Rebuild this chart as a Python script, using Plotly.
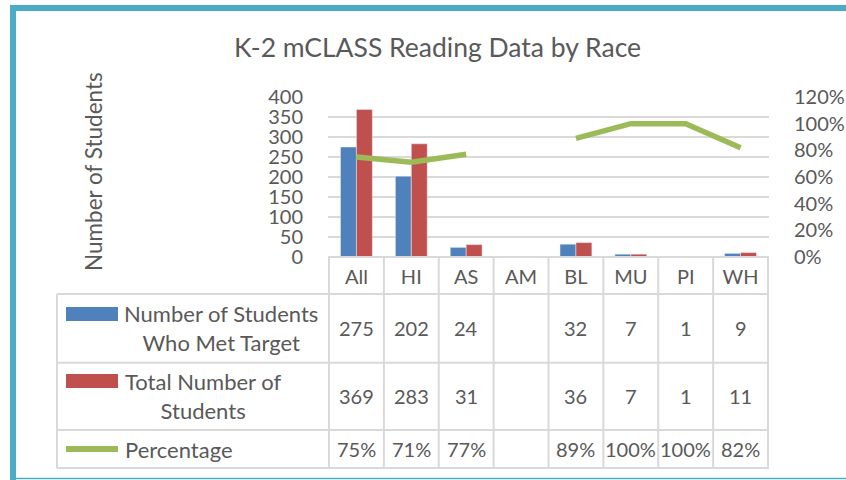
import plotly.graph_objects as go

# ---- data ----
categories = ["All", "HI", "AS", "AM", "BL", "MU", "PI", "WH"]
met_target = [275, 202, 24, None, 32, 7, 1, 9]
total_students = [369, 283, 31, None, 36, 7, 1, 11]
percentage = [0.75, 0.71, 0.77, None, 0.89, 1.00, 1.00, 0.82]
pct_labels = ["75%", "71%", "77%", "", "89%", "100%", "100%", "82%"]
series_names = ["Number of Students<br>Who Met Target", "Total Number of<br>Students", "Percentage"]
title_text = "K-2 mCLASS Reading Data by Race"
y_title = "Number of Students"

# ---- style ----
W, H = 846, 480
PW, PH = 441, 160
ML, MT = 328, 97
MR, MB = W - ML - PW, H - MT - PH
FONT = "Lato"
TXT = "#595959"
GRID = "#D9D9D9"
BLUE, RED, GREEN = "#4F81BD", "#C0504D", "#9BBB59"
TEAL = "#4BACC6"


def px(x):
    """screen pixel x -> paper fraction"""
    return (x - ML) / PW


def py(y):
    """screen pixel y -> paper fraction"""
    return (MT + PH - y) / PH


fig = go.Figure()
fig.add_trace(go.Bar(x=categories, y=met_target, marker_color=BLUE, name="met", showlegend=False))
fig.add_trace(go.Bar(x=categories, y=total_students, marker_color=RED, name="total", showlegend=False))
fig.add_trace(go.Scatter(x=categories, y=percentage, yaxis="y2", mode="lines",
                         line=dict(color=GREEN, width=5.5), connectgaps=False, showlegend=False))

shapes = []
# teal frame
shapes.append(dict(type="rect", xref="paper", yref="paper", x0=px(10), x1=px(W), y0=py(11), y1=py(5),
                   fillcolor=TEAL, line_width=0, layer="above"))
shapes.append(dict(type="rect", xref="paper", yref="paper", x0=px(10), x1=px(16), y0=py(H), y1=py(5),
                   fillcolor=TEAL, line_width=0, layer="above"))
shapes.append(dict(type="line", xref="paper", yref="paper", x0=px(16), x1=px(W), y0=py(478.5), y1=py(478.5),
                   line=dict(color=TEAL, width=1.5), layer="above"))

# table grid
row_lines = [257, 294, 362.7, 430, 468]
for i, yy in enumerate(row_lines):
    x0 = 328 if i == 0 else 57
    shapes.append(dict(type="line", xref="paper", yref="paper", x0=px(x0), x1=px(769), y0=py(yy), y1=py(yy),
                       line=dict(color=GRID, width=2)))
for k in range(len(categories) + 1):
    shapes.append(dict(type="line", xref="x", yref="paper", x0=k - 0.5, x1=k - 0.5, y0=py(257), y1=py(468),
                       line=dict(color=GRID, width=2)))
shapes.append(dict(type="line", xref="paper", yref="paper", x0=px(57), x1=px(57), y0=py(294), y1=py(468),
                   line=dict(color=GRID, width=2)))

# legend keys
shapes.append(dict(type="rect", xref="paper", yref="paper", x0=px(66), x1=px(118), y0=py(321), y1=py(307),
                   fillcolor=BLUE, line_width=0))
shapes.append(dict(type="rect", xref="paper", yref="paper", x0=px(66), x1=px(118), y0=py(388), y1=py(374),
                   fillcolor=RED, line_width=0))
shapes.append(dict(type="line", xref="paper", yref="paper", x0=px(66), x1=px(118), y0=py(449), y1=py(449),
                   line=dict(color=GREEN, width=6)))

ann = []
ann.append(dict(text=title_text, xref="paper", yref="paper", x=px(437.5), y=py(47), showarrow=False,
                font=dict(family=FONT, size=26.5, color=TXT), xanchor="center", yanchor="middle"))
ann.append(dict(text=y_title, xref="paper", yref="paper", x=px(93), y=py(172), showarrow=False, textangle=-90,
                font=dict(family=FONT, size=22.5, color=TXT), xanchor="center", yanchor="middle"))

row_y = [328, 396, 449]
rows = [[("" if v is None else str(v)) for v in met_target],
        [("" if v is None else str(v)) for v in total_students],
        pct_labels]
for r, vals in enumerate(rows):
    for k, t in enumerate(vals):
        if t:
            ann.append(dict(text=t, xref="x", yref="paper", x=k, y=py(row_y[r]), showarrow=False,
                            font=dict(family=FONT, size=20, color=TXT), xanchor="center", yanchor="middle"))

ann.append(dict(text=series_names[0], xref="paper", yref="paper", x=px(221), y=py(328), showarrow=False,
                align="center", font=dict(family=FONT, size=22, color=TXT), xanchor="center", yanchor="middle"))
ann.append(dict(text=series_names[1], xref="paper", yref="paper", x=px(203), y=py(396), showarrow=False,
                align="center", font=dict(family=FONT, size=22, color=TXT), xanchor="center", yanchor="middle"))
ann.append(dict(text=series_names[2], xref="paper", yref="paper", x=px(123), y=py(449), showarrow=False,
                align="left", font=dict(family=FONT, size=22, color=TXT), xanchor="left", yanchor="middle"))

fig.update_layout(
    width=W, height=H, autosize=False,
    margin=dict(l=ML, r=MR, t=MT, b=MB, pad=0, autoexpand=False),
    paper_bgcolor="white", plot_bgcolor="white",
    barmode="group", bargap=0.42, bargroupgap=0,
    showlegend=False,
    font=dict(family=FONT, color=TXT),
    xaxis=dict(type="category", showgrid=False, zeroline=False, showline=False, ticks="", automargin=False,
               tickfont=dict(family=FONT, size=20, color=TXT), ticklabelstandoff=6),
    yaxis=dict(range=[0, 400], dtick=50, showgrid=True, gridcolor=GRID, gridwidth=2, zeroline=False,
               showline=False, ticks="", automargin=False, tickfont=dict(family=FONT, size=20, color=TXT),
               ticklabelstandoff=24),
    yaxis2=dict(range=[0, 1.2], dtick=0.2, tickformat=".0%", overlaying="y", side="right", showgrid=False,
                zeroline=False, showline=False, ticks="", automargin=False,
                tickfont=dict(family=FONT, size=20, color=TXT), ticklabelstandoff=24),
    shapes=shapes,
    annotations=ann,
)

post = """
document.documentElement.style.overflow = 'hidden';
document.body.style.margin = '0';
document.body.style.overflow = 'hidden';
"""

fig.write_html("out.html", config={"displayModeBar": False, "responsive": False}, post_script=post)
